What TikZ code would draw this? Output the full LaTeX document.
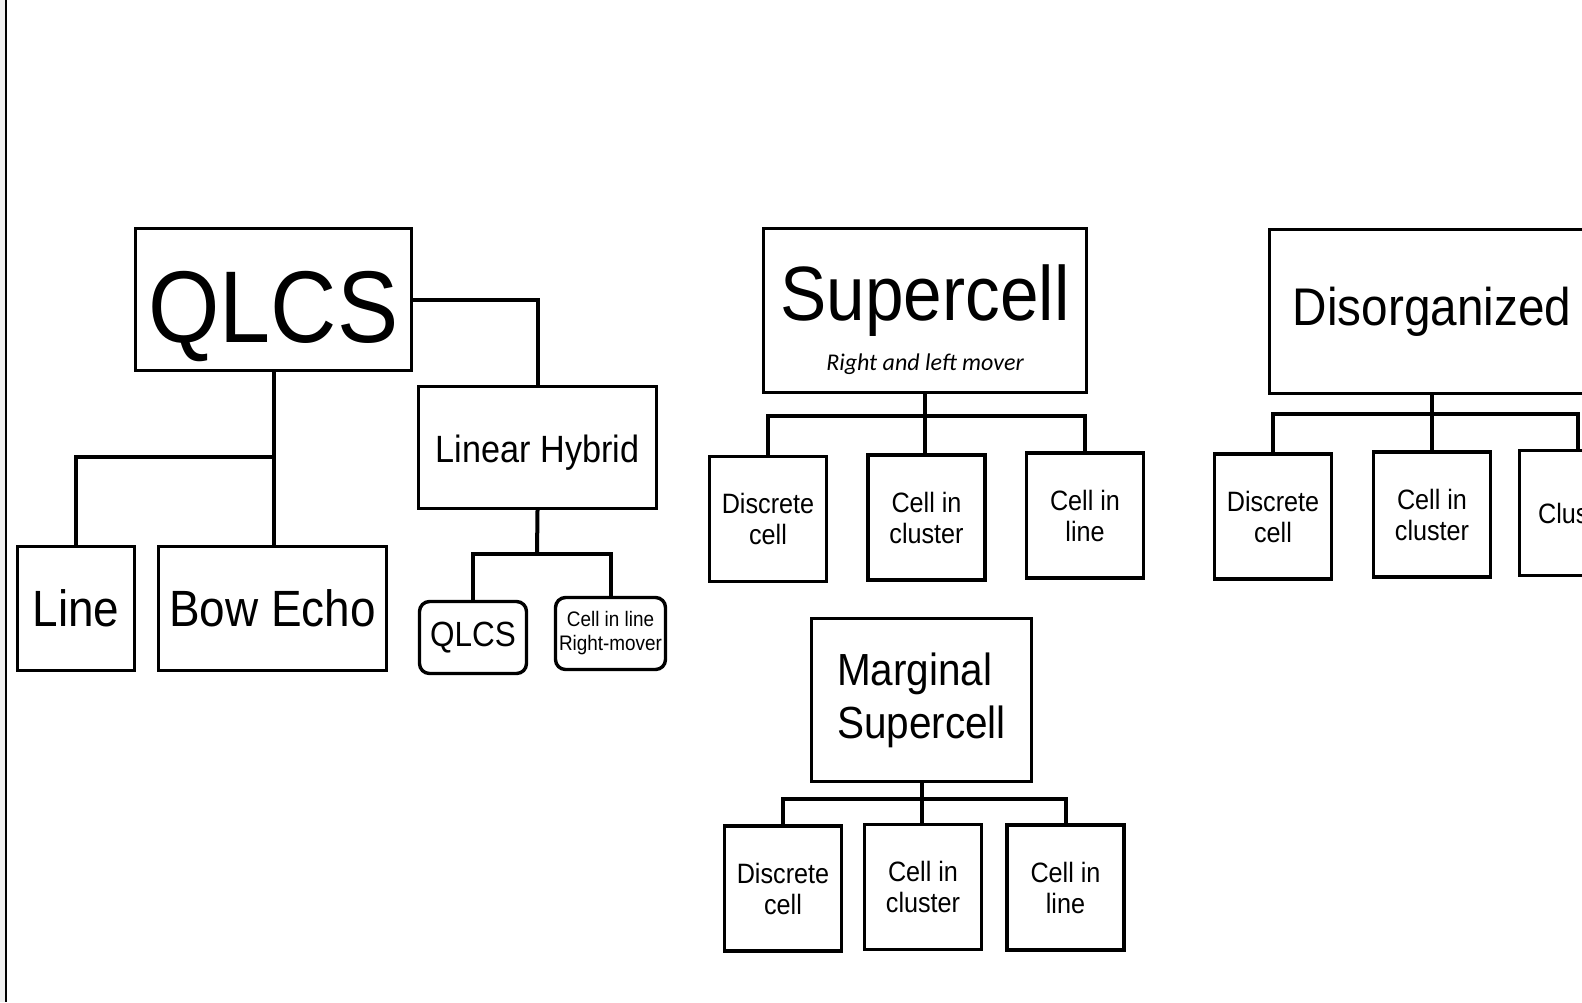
\documentclass[tikz,border=0pt]{standalone}
\usepackage{fontspec}
\setmainfont{Liberation Sans}[FakeStretch=0.9]
\newfontfamily\moverfont{Carlito}

\begin{document}
\begin{tikzpicture}[x=0.5pt, y=-0.5pt,
    box/.style={draw, line width=1.7pt, inner sep=0pt, align=center, fill=white},
    rbox/.style={box, rounded corners=5pt},
    wh/.style 2 args={minimum width=#1*0.5pt, minimum height=#2*0.5pt},
    link/.style={line width=2pt},
    leaf/.style={box, wh={117}{125}, font={\fontsize{14}{15.5}\selectfont}}]
    \useasboundingbox (0,0) rectangle (1582,1002);
    \clip (0,0) rectangle (1582,1002);
    \fill[black!6] (0,0) rectangle (5,1002);
    \draw[line width=1pt] (6,0) -- (6,1002);

    % QLCS branch
    \node[box, wh={276}{142}, text height=46.5pt, text depth=3.5pt,
          font={\fontsize{51}{58}\selectfont}] (qlcs) at (273.5,299.5) {QLCS};
    \node[box, wh={238}{122}, text height=16.5pt, text depth=2pt,
          font={\fontsize{19}{22}\selectfont}] (hybrid) at (537.5,447.5) {Linear Hybrid};
    \node[box, wh={117}{124}, font={\fontsize{25.5}{30}\selectfont}] (line) at (76,608.5) {Line};
    \node[box, wh={228}{124}, font={\fontsize{25.5}{30}\selectfont}] (bow) at (272.5,608.5) {Bow Echo};
    \node[rbox, wh={107}{72}, font={\fontsize{17.5}{20}\selectfont}] (qsmall) at (473,637.5) {QLCS};
    \node[rbox, wh={110}{72}, font={\fontsize{10.5}{12}\selectfont}] (rmover) at (610.5,633.5) {Cell in line\\Right-mover};

    \coordinate (qfork) at (273,457);
    \coordinate (hfork) at (537,554);
    \draw[link] (qlcs.east) -| (hybrid.north);
    \draw[link] (qlcs.south) -- (qlcs.south |- bow.north);
    \draw[link] (line.north) |- (qfork);
    \draw[link] (hybrid.south) -- (hfork);
    \draw[link] (qsmall.north) |- (hfork) -| (rmover.north);

    % Supercell branch
    \node[box, wh={323}{164}] (super) at (925,310.5) {};
    \node[anchor=base, font={\fontsize{38.5}{44}\selectfont}] (supertitle) at (925,320) {Supercell};
    \node[anchor=base, font={\moverfont\itshape\fontsize{12}{14}\selectfont}] (supersub) at (925,370) {Right and left mover};
    \node[leaf] (s1) at (768,519) {Discrete\\cell};
    \node[leaf] (s2) at (926.5,517.5) {Cell in\\cluster};
    \node[leaf] (s3) at (1085,515.5) {Cell in\\line};

    \coordinate (sfork) at (925,416);
    \draw[link] (super.south) -- (super.south |- s2.north);
    \draw[link] (s1.north) |- (sfork) -| (s3.north);

    % Marginal supercell branch
    \node[box, wh={220}{163}, align=left, font={\fontsize{22.5}{26.5}\selectfont}] (marg) at (921.5,700) {Marginal\\Supercell};
    \node[leaf] (m1) at (783,888.5) {Discrete\\cell};
    \node[leaf] (m2) at (923,887) {Cell in\\cluster};
    \node[leaf] (m3) at (1065.5,887.5) {Cell in\\line};

    \coordinate (mfork) at (921.5,799);
    \draw[link] (marg.south) -- (mfork) -- (mfork |- m2.north);
    \draw[link] (m1.north) |- (mfork) -| (m3.north);

    % Disorganized branch
    \node[box, wh={325}{164}, font={\fontsize{26.5}{30}\selectfont}] (dis) at (1432,311.5) {Disorganized};
    \node[leaf] (d1) at (1273,516.5) {Discrete\\cell};
    \node[leaf] (d2) at (1432,514.5) {Cell in\\cluster};
    \node[leaf] (d3) at (1578,513) {Cluster};

    \coordinate (dfork) at (1432,414);
    \draw[link] (dis.south) -- (dis.south |- d2.north);
    \draw[link] (d1.north) |- (dfork) -| (d3.north);
\end{tikzpicture}
\end{document}
